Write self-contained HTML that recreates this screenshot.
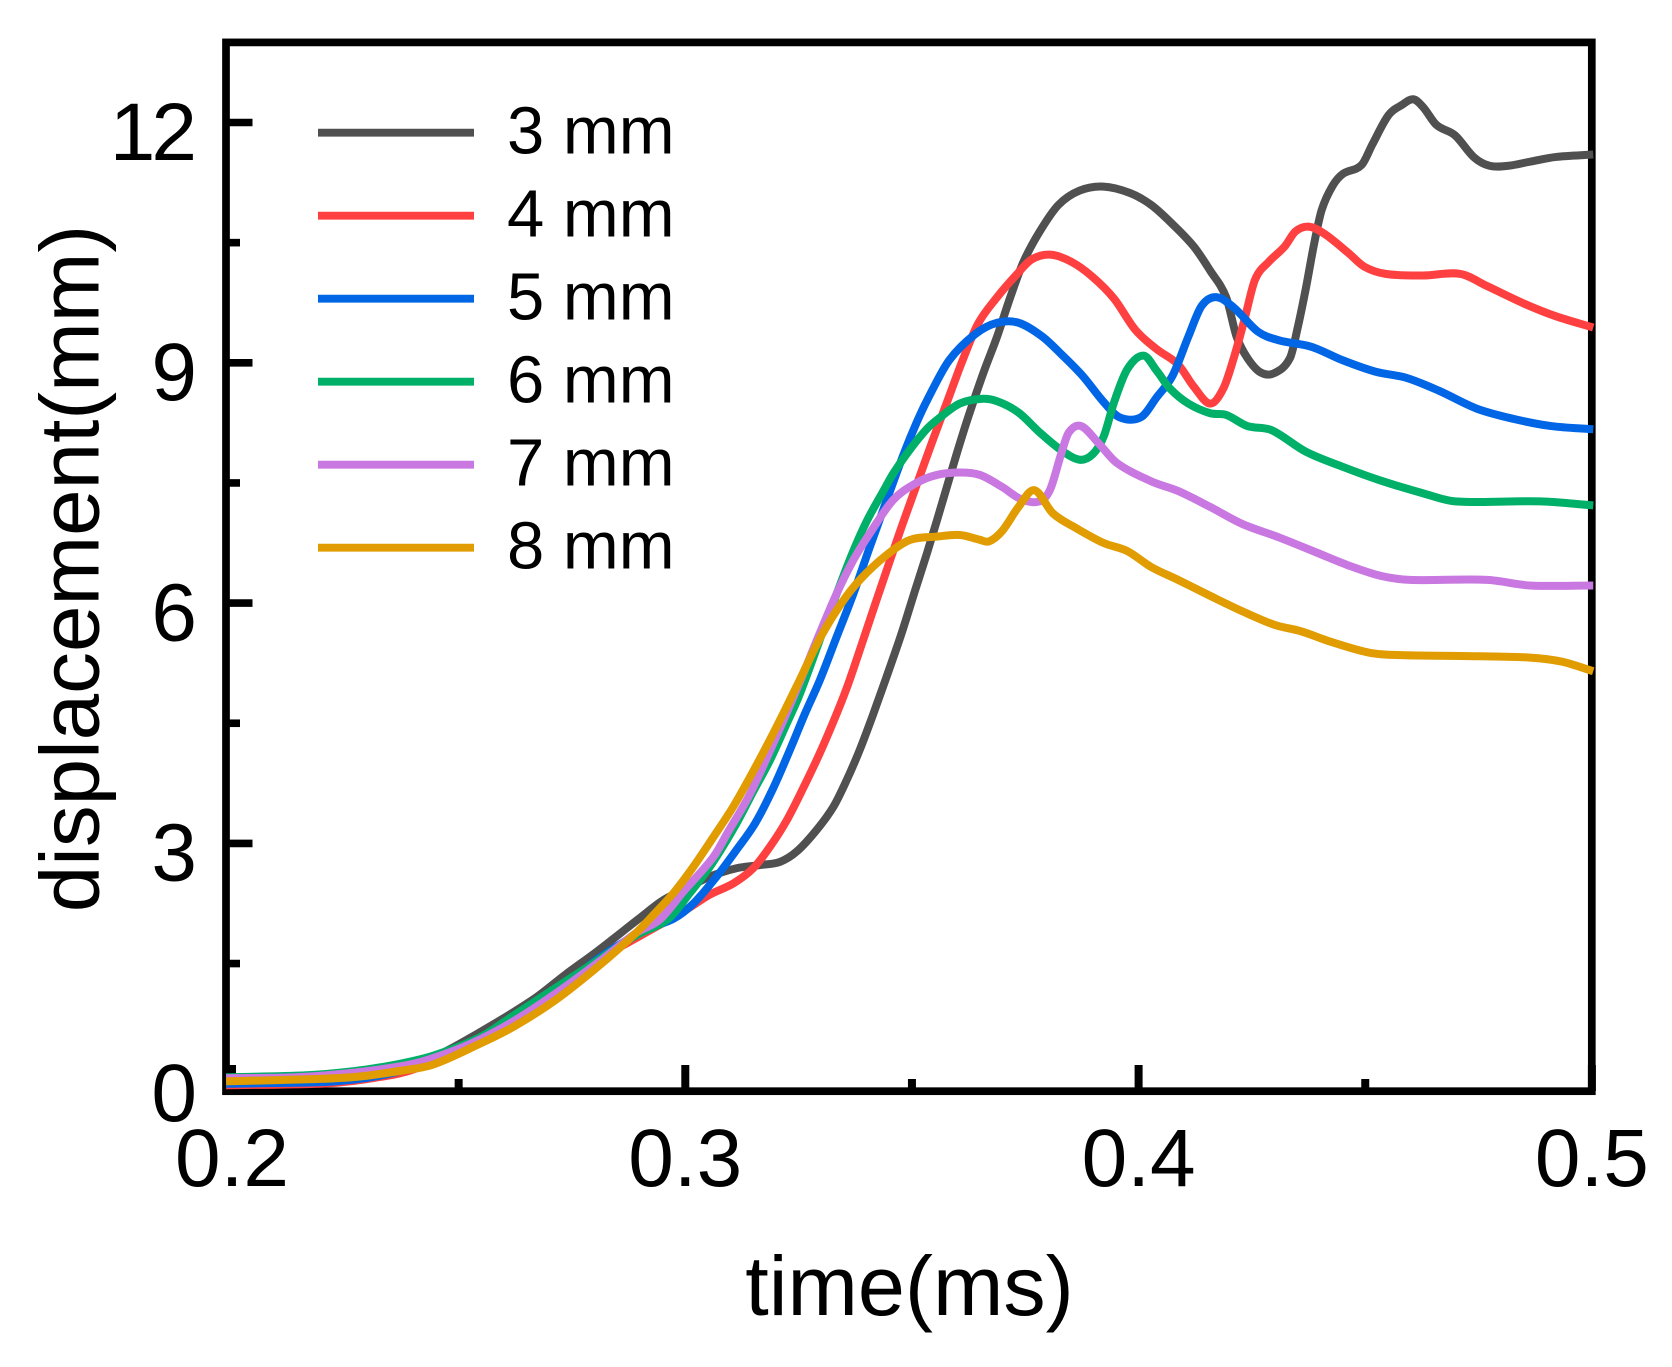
<!DOCTYPE html>
<html lang="en">
<head>
<meta charset="utf-8">
<title>Displacement over time</title>
<style>
html,body{margin:0;padding:0;background:#fff;}
svg{display:block;}
text{font-family:"Liberation Sans",Arial,sans-serif;fill:#000;}
</style>
</head>
<body>
<svg id="chart" xmlns="http://www.w3.org/2000/svg" width="1672" height="1367" viewBox="0 0 1672 1367">
<rect x="226" y="42.4" width="1365.8" height="1048.8" fill="none" stroke="#000" stroke-width="7.7"/>
<g id="ticks"></g>
<g id="tick-labels"></g>
<text x="909.5" y="1315" font-size="84.5" text-anchor="middle">time(ms)</text>
<text transform="translate(98.5 568.5) rotate(-90)" font-size="83.6" text-anchor="middle">displacement(mm)</text>
<g id="series"></g>
<g id="legend"></g>
</svg>
<script>
var xTicks = [0.2, 0.3, 0.4, 0.5];
var xTickLabels = ["0.2", "0.3", "0.4", "0.5"];
var xMinorTicks = [0.25, 0.35, 0.45];
var yTicks = [0, 3, 6, 9, 12];
var yTickLabels = ["0", "3", "6", "9", "12"];
var yMinorTicks = [1.5, 4.5, 7.5, 10.5];
var seriesNames = ["3 mm", "4 mm", "5 mm", "6 mm", "7 mm", "8 mm"];
var seriesColors = ["#505050", "#ff4040", "#0066e6", "#00b068", "#c878e0", "#e09c00"];

var time3 = [0.1987,0.22,0.235,0.2444,0.254,0.2664,0.2735,0.2805,0.29,0.2951,0.301,0.3054,0.3113,0.3165,0.3209,0.3246,0.329,0.3327,0.3356,0.3385,0.3415,0.3444,0.3477,0.3507,0.3533,0.3555,0.3577,0.3599,0.3624,0.3658,0.3688,0.3717,0.3746,0.3782,0.3823,0.387,0.3923,0.3981,0.4028,0.4075,0.4122,0.4158,0.4193,0.4216,0.424,0.4269,0.4299,0.4334,0.4351,0.4369,0.4387,0.4404,0.4428,0.4451,0.4492,0.4516,0.4551,0.4581,0.4606,0.4628,0.4657,0.4698,0.4739,0.4774,0.4816,0.4863,0.4921,0.5003];
var disp3 = [0,0.03,0.17,0.33,0.62,1.05,1.36,1.65,2.07,2.29,2.46,2.585,2.69,2.73,2.77,2.9,3.17,3.46,3.79,4.17,4.62,5.08,5.62,6.16,6.62,7.03,7.45,7.87,8.32,8.88,9.33,9.82,10.26,10.64,10.97,11.15,11.2,11.12,10.97,10.73,10.45,10.15,9.82,9.33,9.06,8.88,8.87,9.06,9.44,9.93,10.48,10.91,11.21,11.36,11.47,11.73,12.09,12.22,12.29,12.19,11.97,11.84,11.57,11.46,11.46,11.51,11.57,11.6];

var time4 = [0.1987,0.2194,0.2267,0.2326,0.2371,0.2415,0.2444,0.2547,0.2664,0.2735,0.2805,0.2911,0.2996,0.3054,0.3106,0.315,0.3187,0.3224,0.326,0.3297,0.3334,0.336,0.3393,0.3422,0.3452,0.3477,0.3496,0.3522,0.3547,0.3582,0.3611,0.3646,0.3688,0.3729,0.3764,0.3805,0.3852,0.3899,0.3946,0.3993,0.404,0.4087,0.4122,0.4158,0.4187,0.421,0.4234,0.4257,0.4287,0.4322,0.4346,0.4375,0.441,0.4463,0.4498,0.4545,0.4627,0.471,0.4768,0.485,0.4921,0.5003];
var disp4 = [-0.02,0,0.034,0.084,0.13,0.21,0.3,0.55,0.93,1.2,1.53,1.88,2.15,2.36,2.5,2.69,2.96,3.29,3.69,4.13,4.62,5,5.55,6.04,6.54,6.95,7.25,7.66,8.05,8.58,9.02,9.49,9.82,10.09,10.29,10.35,10.26,10.07,9.8,9.41,9.17,8.98,8.7,8.49,8.68,9.06,9.55,10.04,10.26,10.45,10.64,10.7,10.61,10.37,10.2,10.11,10.09,10.11,9.96,9.74,9.58,9.44];

var time5 = [0.1987,0.22,0.2267,0.2326,0.2371,0.2415,0.2444,0.2547,0.2664,0.2735,0.2805,0.2911,0.2974,0.3018,0.3069,0.3113,0.3154,0.3194,0.3231,0.3264,0.3297,0.3334,0.3371,0.3407,0.3444,0.3481,0.351,0.3535,0.3582,0.364,0.3688,0.3735,0.3787,0.3829,0.3876,0.3923,0.3958,0.4005,0.404,0.4075,0.411,0.4139,0.4171,0.421,0.4263,0.431,0.4381,0.4451,0.4522,0.4592,0.4663,0.4745,0.4827,0.491,0.5003];
var disp5 = [0,0.02,0.05,0.1,0.16,0.24,0.31,0.57,0.95,1.22,1.55,1.92,2.06,2.25,2.585,2.92,3.25,3.69,4.17,4.62,5.04,5.58,6.12,6.7,7.28,7.85,8.25,8.55,9.03,9.36,9.5,9.5,9.33,9.11,8.84,8.51,8.32,8.32,8.57,8.84,9.33,9.71,9.82,9.69,9.39,9.28,9.2,9.03,8.89,8.81,8.65,8.43,8.3,8.21,8.17];

var time6 = [0.1987,0.2165,0.2267,0.2356,0.2444,0.2547,0.2621,0.2715,0.2809,0.2891,0.2963,0.301,0.3058,0.311,0.315,0.3187,0.3224,0.3253,0.3323,0.3367,0.34,0.3437,0.3459,0.3496,0.3532,0.3558,0.3605,0.3652,0.3688,0.3735,0.3782,0.3829,0.387,0.3899,0.3923,0.3946,0.3975,0.4011,0.404,0.4069,0.411,0.4158,0.4193,0.424,0.4293,0.4369,0.4451,0.4534,0.4628,0.4698,0.4886,0.5003];
var disp6 = [0.08,0.105,0.155,0.233,0.35,0.58,0.85,1.2,1.55,1.85,2.06,2.38,2.74,3.22,3.65,4.04,4.5,4.87,5.95,6.6,7.02,7.4,7.62,7.92,8.17,8.3,8.49,8.55,8.52,8.38,8.13,7.91,7.79,7.86,8.08,8.51,8.92,9.09,8.9,8.68,8.49,8.37,8.35,8.21,8.16,7.89,7.7,7.53,7.37,7.27,7.27,7.22];

var time7 = [0.1987,0.2139,0.2257,0.2374,0.2433,0.2527,0.2621,0.2715,0.2809,0.2891,0.2944,0.2996,0.3062,0.3095,0.3143,0.3202,0.3253,0.3297,0.3334,0.3371,0.3407,0.3459,0.351,0.3555,0.3606,0.365,0.3699,0.374,0.3782,0.3805,0.3829,0.3846,0.3873,0.3911,0.3952,0.4028,0.4087,0.4158,0.4228,0.431,0.4393,0.4463,0.4534,0.4598,0.4769,0.4863,0.5003];
var disp7 = [0.07,0.08,0.13,0.22,0.3,0.5,0.78,1.13,1.52,1.88,2.05,2.4,2.83,3.15,3.62,4.35,5.02,5.63,6.12,6.54,6.87,7.29,7.5,7.6,7.63,7.6,7.45,7.3,7.27,7.42,7.86,8.13,8.21,8,7.75,7.52,7.4,7.2,6.99,6.82,6.63,6.47,6.34,6.29,6.29,6.22,6.22];

var time8 = [0.1987,0.2194,0.2282,0.2371,0.2444,0.2547,0.2621,0.2715,0.2809,0.2891,0.2926,0.2974,0.3018,0.3062,0.3106,0.3143,0.3179,0.3216,0.3249,0.3297,0.3341,0.3385,0.3444,0.3496,0.3555,0.3606,0.365,0.367,0.3699,0.3735,0.377,0.3811,0.3864,0.3923,0.3975,0.4028,0.4087,0.4158,0.4228,0.4299,0.4357,0.4428,0.451,0.4581,0.471,0.4863,0.4933,0.5003];
var disp8 = [0.03,0.06,0.09,0.16,0.24,0.5,0.71,1.05,1.47,1.88,2.085,2.38,2.71,3.08,3.46,3.83,4.21,4.62,5,5.56,5.97,6.29,6.6,6.79,6.83,6.85,6.79,6.77,6.9,7.2,7.41,7.12,6.93,6.75,6.65,6.45,6.29,6.09,5.9,5.73,5.65,5.51,5.38,5.35,5.34,5.32,5.27,5.15];

var seriesTimes = [time3, time4, time5, time6, time7, time8];
var seriesValues = [disp3, disp4, disp5, disp6, disp7, disp8];

var SVG_NS = "http://www.w3.org/2000/svg";
function xScale(t) { return 232 + (t - 0.2) * 4533; }
function yScale(v) { return 1083.7 - v * 80.1; }

function makeLine(parent, x1, y1, x2, y2, color, width) {
  var el = document.createElementNS(SVG_NS, "line");
  el.setAttribute("x1", x1);
  el.setAttribute("y1", y1);
  el.setAttribute("x2", x2);
  el.setAttribute("y2", y2);
  el.setAttribute("stroke", color);
  el.setAttribute("stroke-width", width);
  parent.appendChild(el);
  return el;
}
function makeText(parent, x, y, size, anchor, content) {
  var el = document.createElementNS(SVG_NS, "text");
  el.setAttribute("x", x);
  el.setAttribute("y", y);
  el.setAttribute("font-size", size);
  el.setAttribute("text-anchor", anchor);
  el.textContent = content;
  parent.appendChild(el);
  return el;
}
function smoothPath(ts, vs) {
  var n = ts.length, d = "";
  function slope(i) {
    var a = Math.max(i - 1, 0), b = Math.min(i + 1, n - 1);
    return (vs[b] - vs[a]) / (ts[b] - ts[a]);
  }
  d = "M" + xScale(ts[0]).toFixed(2) + " " + yScale(vs[0]).toFixed(2);
  for (var i = 0; i < n - 1; i++) {
    var h = ts[i + 1] - ts[i];
    var c1t = ts[i] + h / 3, c1v = vs[i] + slope(i) * h / 3;
    var c2t = ts[i + 1] - h / 3, c2v = vs[i + 1] - slope(i + 1) * h / 3;
    d += "C" + xScale(c1t).toFixed(2) + " " + yScale(c1v).toFixed(2) + " " +
         xScale(c2t).toFixed(2) + " " + yScale(c2v).toFixed(2) + " " +
         xScale(ts[i + 1]).toFixed(2) + " " + yScale(vs[i + 1]).toFixed(2);
  }
  return d;
}

var ticksGroup = document.getElementById("ticks");
var labelsGroup = document.getElementById("tick-labels");
var seriesGroup = document.getElementById("series");
var legendGroup = document.getElementById("legend");

xTicks.forEach(function (t, i) {
  var tick = makeLine(ticksGroup, xScale(t), 1091, xScale(t), 1065, "#000", 8);
  
  
  var label = makeText(labelsGroup, xScale(t), 1186, 82, "middle", xTickLabels[i]);
  
  
});
xMinorTicks.forEach(function (t) {
  var tick = makeLine(ticksGroup, xScale(t), 1091, xScale(t), 1079, "#000", 8);
  
  
});
yTicks.forEach(function (v, i) {
  var tick = makeLine(ticksGroup, 226, yScale(v), 252.5, yScale(v), "#000", 7.6);
  
  
  var twoDigits = yTickLabels[i].length > 1;
  var label = makeText(labelsGroup, twoDigits ? 193 : 197, yScale(v) + 37.3, 82, "end", yTickLabels[i]);
  if (twoDigits) { label.setAttribute("letter-spacing", "-4"); }
  
  
});
yMinorTicks.forEach(function (v) {
  var tick = makeLine(ticksGroup, 226, yScale(v), 240, yScale(v), "#000", 7.6);
  
  
});

seriesNames.forEach(function (name, i) {
  var path = document.createElementNS(SVG_NS, "path");
  path.setAttribute("d", smoothPath(seriesTimes[i], seriesValues[i]));
  path.setAttribute("fill", "none");
  path.setAttribute("stroke", seriesColors[i]);
  path.setAttribute("stroke-width", 8);
  path.setAttribute("stroke-linejoin", "round");
  
  
  seriesGroup.appendChild(path);

  var rowY = 132.7 + i * 83;
  var key = makeLine(legendGroup, 318, rowY, 474, rowY, seriesColors[i], 7.8);
  
  
  var text = makeText(legendGroup, 507, rowY + 21, 67, "start", name);
  
  
});
</script>
</body>
</html>
